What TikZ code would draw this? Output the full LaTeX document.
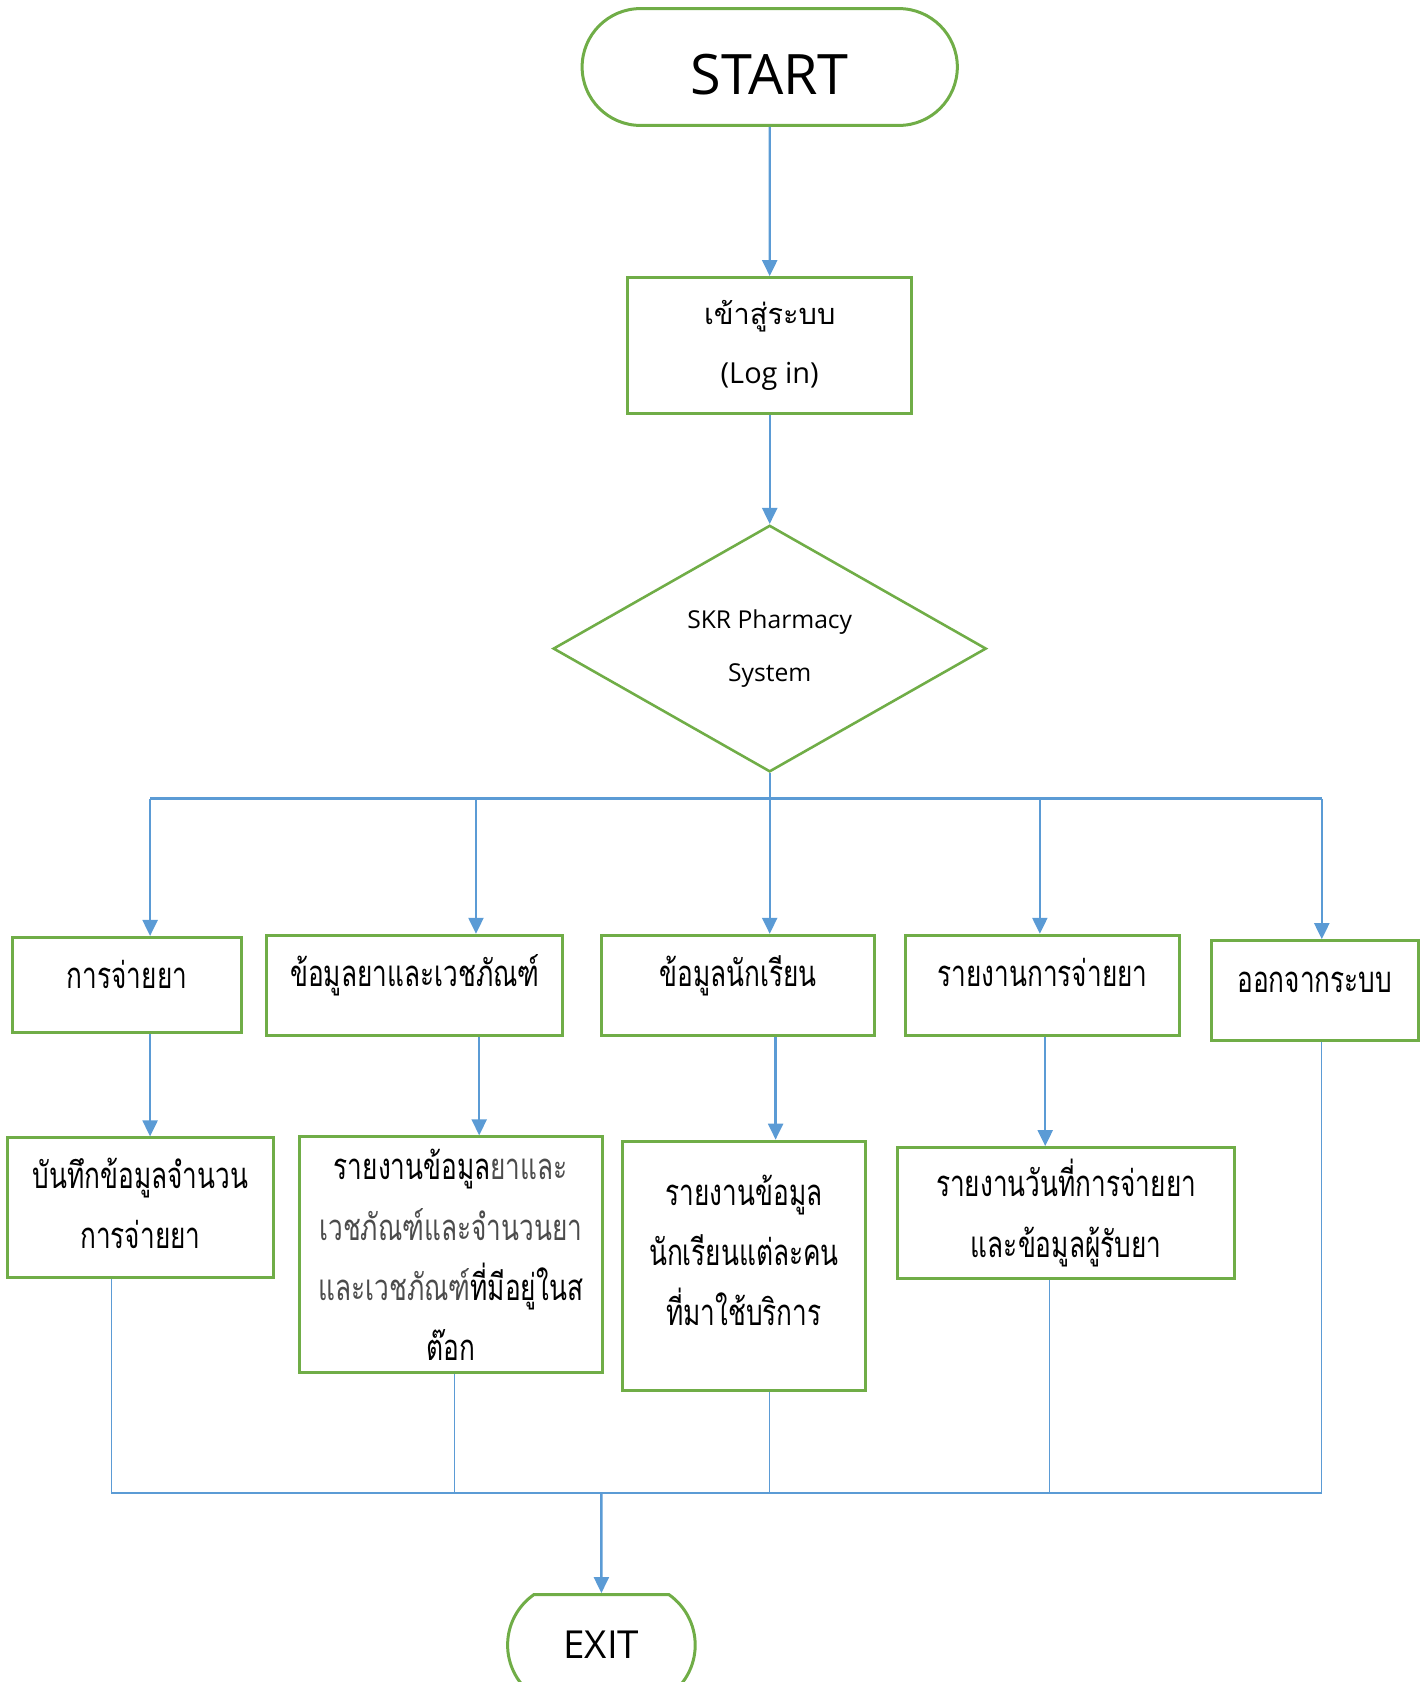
\documentclass[tikz,border=0pt]{standalone}
\usepackage{fontspec}
\setmainfont{Open Sans}
\newfontfamily\thaifont[Script=Thai]{Loma}
\newfontfamily\thainarrow[Script=Thai,FakeStretch=0.72]{Loma}
\usepackage{tikz}
\usetikzlibrary{shapes,arrows,positioning,shapes.geometric,shapes.misc,arrows.meta}
\definecolor{boxgreen}{HTML}{70AD47}
\definecolor{flowblue}{HTML}{5B9BD5}
\tikzstyle{line} = [draw, flowblue, line width=1.1pt, -{Triangle[length=7.5pt,width=7pt]}]

\begin{document}
\begin{tikzpicture}[auto, node distance=130pt]
    \tikzstyle{terminal} = [rounded rectangle, draw=boxgreen, line width=1.4pt, inner sep=0pt]
    \tikzstyle{block} = [rectangle, draw=boxgreen, line width=1.4pt, align=center, inner sep=0pt, font=\thainarrow\fontsize{17}{28}\selectfont]
    \tikzstyle{menu} = [block, text height=24pt, text depth=22.5pt]
    \tikzstyle{decision} = [diamond, draw=boxgreen, line width=1.2pt, inner sep=0pt, align=center, minimum width=202pt, minimum height=115pt, font=\fontsize{11.5}{24.5}\selectfont]
    \tikzstyle{bus} = [draw, flowblue, line width=1.1pt]
    \tikzstyle{thinline} = [draw, flowblue, line width=0.5pt]

    \useasboundingbox (0,0) rectangle (663pt,-784.5pt);

    % Start
    \node [terminal, minimum width=175pt, minimum height=54.5pt, text height=25.6pt, text depth=0pt, font=\fontsize{26}{30}\selectfont] (start) at (359pt,-31.25pt) {START};

    % Log in
    \node [block, below of=start, minimum width=132.5pt, minimum height=63.5pt, font=\fontsize{13.5}{27.5}\selectfont] (login) {{\thaifont เข้าสู่ระบบ}\\(Log in)};

    % SKR Pharmacy System
    \node [decision, below of=login, yshift=-11.25pt] (sys) {SKR Pharmacy\\System};

    % Menu
    \node [menu, below of=sys, xshift=-299.75pt, yshift=-27pt, minimum width=106.5pt, text depth=20.5pt] (dispense) {การจ่ายยา};
    \node [menu, below of=sys, xshift=-165.5pt, yshift=-27pt, minimum width=138pt] (drugs) {ข้อมูลยาและเวชภัณฑ์};
    \node [menu, below of=sys, xshift=-14.75pt, yshift=-27pt, minimum width=127.5pt] (students) {ข้อมูลนักเรียน};
    \node [menu, below of=sys, xshift=127.25pt, yshift=-27pt, minimum width=127.5pt] (report) {รายงานการจ่ายยา};
    \node [menu, below of=sys, xshift=254.25pt, yshift=-29.5pt, minimum width=96.5pt] (logout) {ออกจากระบบ};

    % Sub pages
    \node [block, below of=dispense, xshift=6.25pt, yshift=26.25pt, minimum width=124pt, minimum height=65pt] (record) {บันทึกข้อมูลจำนวน\\การจ่ายยา\\[-24pt]\mbox{}};
    \node [block, below of=drugs, xshift=16.75pt, yshift=4.25pt, minimum width=141.5pt, minimum height=110pt] (stock) {รายงานข้อมูล{\color{black!70}ยาและ}\\{\color{black!70}เวชภัณฑ์และจำนวนยา}\\{\color{black!70}และเวชภัณฑ์}ที่มีอยู่ในส\\ต๊อก};
    \node [block, below of=students, xshift=2.75pt, yshift=-1pt, minimum width=113pt, minimum height=116.5pt] (visits) {รายงานข้อมูล\\นักเรียนแต่ละคน\\ที่มาใช้บริการ\\[-13pt]\mbox{}};
    \node [block, below of=report, xshift=11pt, yshift=23.75pt, minimum width=157.5pt, minimum height=61pt] (dates) {รายงานวันที่การจ่ายยา\\และข้อมูลผู้รับยา};

    % Exit
    \node [terminal, below of=stock, xshift=70.25pt, yshift=-52pt, rounded rectangle arc length=110, minimum width=87.5pt, minimum height=47pt, font=\fontsize{18}{20}\selectfont] (exit) {EXIT};

    % Bus points
    \coordinate (t1) at (70pt,-372.5pt);
    \coordinate (t2) at (222pt,-372.5pt);
    \coordinate (t4) at (485pt,-372.5pt);
    \coordinate (t5) at (616.5pt,-372.5pt);
    \coordinate (u1) at (52pt,-696.5pt);
    \coordinate (u2) at (212pt,-696.5pt);
    \coordinate (u3) at (359pt,-696.5pt);
    \coordinate (u4) at (489.5pt,-696.5pt);
    \coordinate (u5) at (616.5pt,-696.5pt);

    % Arrows
    \path [line] (start) -- (login);
    \path [line] (login) -- (sys);
    \path [bus] (sys.south) -- (sys.south |- t1);
    \path [bus] (t1) -- (t5);
    \path [line] (t1) -- (t1 |- dispense.north);
    \path [line] (t2) -- (t2 |- drugs.north);
    \path [line] (sys.south) -- (sys.south |- students.north);
    \path [line] (t4) -- (t4 |- report.north);
    \path [line] (t5) -- (t5 |- logout.north);
    \path [line] (t1 |- dispense.south) -- (t1 |- record.north);
    \path [line] ([xshift=30pt]drugs.south) -- ([xshift=30pt]drugs.south |- stock.north);
    \path [line] ([xshift=17.5pt]students.south) -- ([xshift=17.5pt]students.south |- visits.north);
    \path [line] ([xshift=1.25pt]report.south) -- ([xshift=1.25pt]report.south |- dates.north);

    % Lines to exit
    \path [thinline] (u1 |- record.south) -- (u1);
    \path [thinline] (u2 |- stock.south) -- (u2);
    \path [thinline] (u3 |- visits.south) -- (u3);
    \path [thinline] (u4 |- dates.south) -- (u4);
    \path [thinline] (u5 |- logout.south) -- (u5);
    \path [thinline, line width=0.9pt] (u1) -- (u5);
    \path [line] (exit.north |- u1) -- (exit);

\end{tikzpicture}
\end{document}
